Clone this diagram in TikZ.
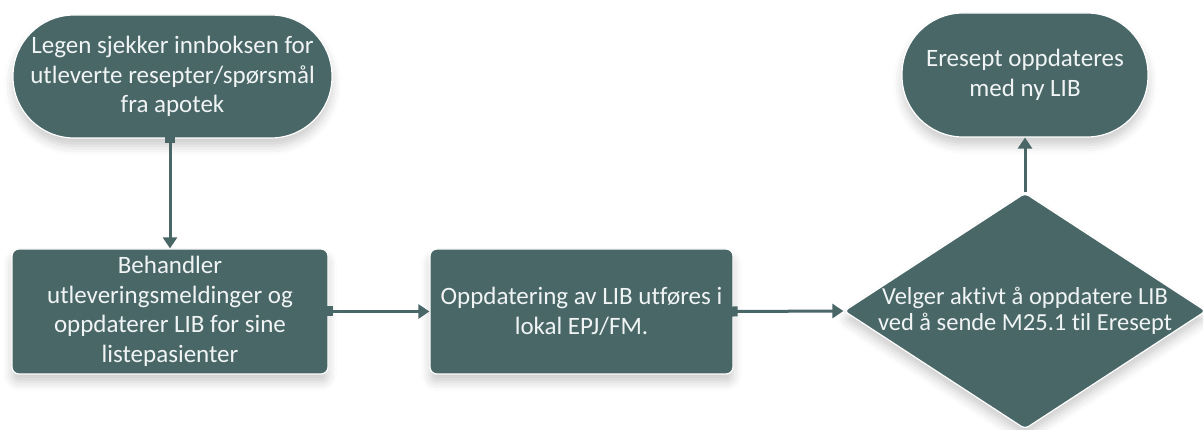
\documentclass[tikz,border=0pt]{standalone}
\usepackage{fontspec}
\setmainfont{Carlito}[Ligatures=NoCommon]
\usetikzlibrary{arrows.meta,shapes.geometric,shadows.blur}
\definecolor{slate}{RGB}{74,103,104}
\definecolor{txtc}{RGB}{240,244,244}
\tikzset{
  base/.style={fill=slate, draw=white, line width=1.2pt, text=txtc, align=center,
     font=\fontsize{25}{29.5}\selectfont, inner sep=0pt,
     blur shadow={shadow xshift=0pt, shadow yshift=-8pt, shadow blur radius=9pt, shadow opacity=20}},
  term/.style={base, rectangle, rounded corners=61pt},
  procbox/.style={base, rectangle, rounded corners=7pt},
  decision/.style={base, diamond, rounded corners=4pt},
  txt/.style={text=txtc, align=center, font=\fontsize{24.5}{26}\selectfont, inner sep=0pt},
  conn/.style={draw=slate, line width=3pt},
  tipend/.style={-{Triangle[length=11pt,width=14pt]}},
  sqtip/.style={{Square[length=8pt,width=10pt]}-{Triangle[length=11pt,width=14pt]}, shorten <=-4pt}
}
\begin{document}
\begin{tikzpicture}[x=1pt,y=-1pt]
\useasboundingbox (0,0) rectangle (1203,430);
\node[term, minimum width=319pt, minimum height=123pt] (t1) at (172.5,76.5)
  {Legen sjekker innboksen for\\utleverte resepter/spørsmål\\fra apotek};
\node[procbox, minimum width=316pt, minimum height=125pt] (b1) at (170,311.5)
  {Behandler\\utleveringsmeldinger og\\oppdaterer LIB for sine\\listepasienter};
\node[procbox, minimum width=303pt, minimum height=125pt] (b2) at (581.5,311.5)
  {Oppdatering av LIB utføres i\\lokal EPJ/FM.};
\node[decision, minimum width=362pt, minimum height=236pt,
      label={[txt]center:{Velger aktivt å oppdatere LIB\\ved å sende M25.1 til Eresept}}] (d) at (1025,311) {};
\node[term, minimum width=246pt, minimum height=124pt] (t2) at (1025,75)
  {Eresept oppdateres\\med ny LIB};
\draw[conn, sqtip] (t1.south -| b1.north) -- (b1.north);
\draw[conn, sqtip] (b1.east) -- (b2.west);
\draw[conn, sqtip] (b2.east) -- (d.west);
\draw[conn, tipend] (d.north) -- (t2.south);
\end{tikzpicture}
\end{document}
